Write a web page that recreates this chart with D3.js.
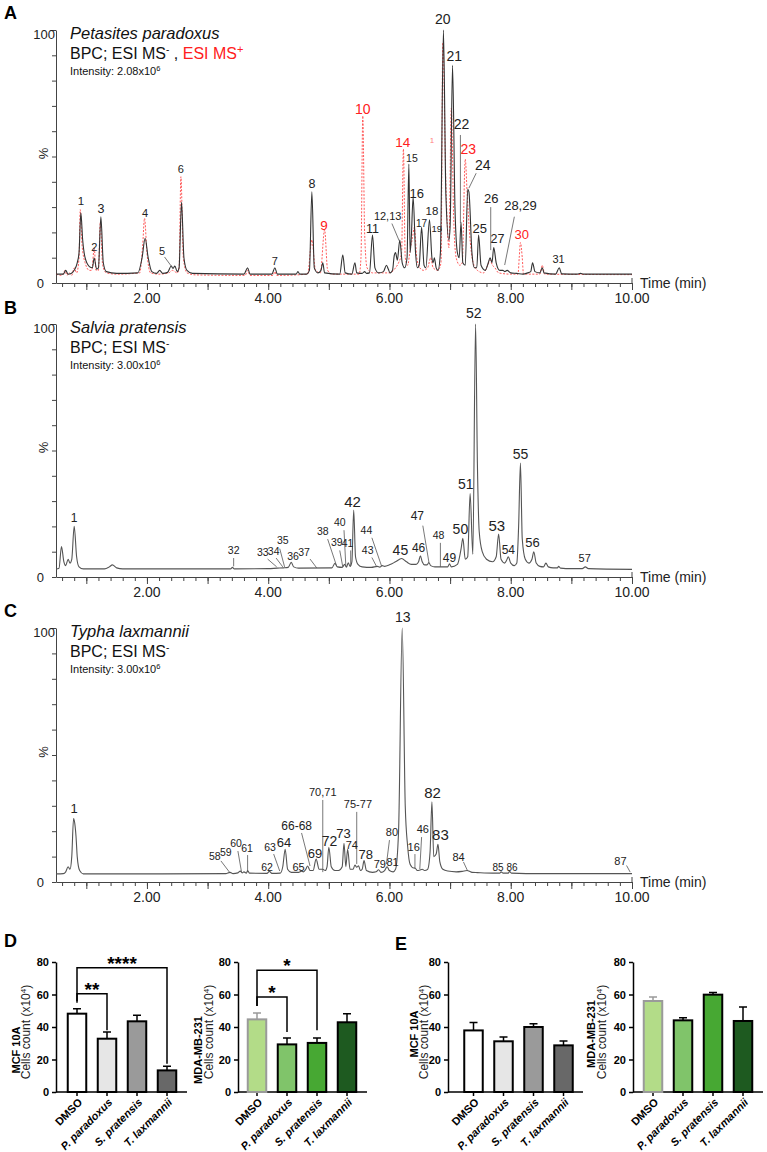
<!DOCTYPE html>
<html>
<head>
<meta charset="utf-8">
<script src="https://cdn.jsdelivr.net/npm/d3@7"></script>
<style>
  body { margin: 0; background: #fff; }
  svg { display: block; font-family: "Liberation Sans", Arial, sans-serif; }
</style>
</head>
<body>
<div id="fig"></div>
<script>
/* * * * * * * * * * * * * *
*   chromatograms + bars    *
* * * * * * * * * * * * * */

// ---- chromatogram data: [time (min), intensity %] ----
const timeTicks = [2, 4, 6, 8, 10];

const traceA_neg = [[0.50,3.5],[0.62,3.5],[0.66,5],[0.70,3.5],[0.75,3.8],[0.80,5],[0.85,8],[0.88,12],[0.91,27.7],[0.94,17],[0.98,10],[1.05,6.5],[1.10,6],[1.13,9.9],[1.17,5.5],[1.20,6],[1.24,26.2],[1.28,8],[1.33,4.5],[1.50,3.8],[1.85,4],[1.92,10],[1.97,17.7],[2.02,10],[2.08,4.5],[2.16,3.8],[2.21,5],[2.26,3.8],[2.34,4.2],[2.40,6.7],[2.43,5.8],[2.46,6.7],[2.50,4.5],[2.53,6],[2.57,32],[2.61,10],[2.66,5],[2.75,3.8],[3.60,3.5],[3.66,6],[3.70,3.5],[4.06,3.5],[4.11,6],[4.15,3.5],[4.46,3.5],[4.49,4.5],[4.52,3.5],[4.63,3.5],[4.68,5],[4.72,36],[4.76,6],[4.82,4],[4.87,5],[4.90,8],[4.93,4],[5.18,3.5],[5.23,11],[5.27,4],[5.38,3.5],[5.43,8],[5.46,4],[5.55,3.8],[5.59,4.5],[5.62,3.8],[5.67,4],[5.72,19],[5.76,6],[5.82,4],[5.90,4.5],[5.95,7],[5.98,5.5],[6.01,4],[6.05,5],[6.08,11],[6.10,12],[6.13,9],[6.17,17],[6.21,8],[6.25,6],[6.29,10],[6.32,47],[6.34,12],[6.36,18],[6.39,34],[6.43,12],[6.46,6],[6.49,7],[6.53,22],[6.57,7],[6.60,6],[6.66,25],[6.70,10],[6.72,8],[6.74,10],[6.77,6],[6.80,5],[6.84,12],[6.89,100],[6.93,35],[6.98,17],[7.00,22],[7.04,86],[7.08,30],[7.12,12],[7.15,10],[7.18,24],[7.21,8],[7.25,7],[7.29,37],[7.31,36],[7.36,12],[7.40,6],[7.44,6],[7.47,19],[7.51,7],[7.58,5],[7.63,8],[7.66,10],[7.69,8],[7.72,14],[7.76,8],[7.82,5],[7.87,5],[7.90,4.5],[7.94,5],[8.00,4],[8.10,3.8],[8.20,3.5],[8.28,4],[8.33,4.5],[8.36,8],[8.40,4.5],[8.48,4],[8.52,6],[8.55,4],[8.74,3.5],[8.80,6],[8.84,3.6],[9.10,3.5],[9.15,3.8],[9.20,3.5],[10.0,3.5]];

const traceA_pos = [[0.50,3.5],[0.60,3],[0.65,5],[0.68,3],[0.72,4],[0.76,3],[0.80,6],[0.84,4],[0.88,10],[0.90,29],[0.93,15],[0.98,8],[1.05,5],[1.09,5],[1.13,13.8],[1.16,5],[1.20,5],[1.23,24],[1.27,7],[1.33,4],[1.50,3.5],[1.88,4],[1.93,15],[1.96,25.6],[2.00,12],[2.06,4],[2.20,3.5],[2.36,4],[2.42,5],[2.50,4],[2.53,6],[2.56,42],[2.60,10],[2.66,4],[2.80,3.2],[3.62,3],[3.66,5],[3.70,3],[4.08,3],[4.11,4.5],[4.14,3],[4.65,3.5],[4.72,17],[4.78,5],[4.86,4],[4.93,21],[4.98,5],[5.05,3.5],[5.50,3.5],[5.53,10],[5.56,66],[5.59,20],[5.63,6],[5.72,4],[6.00,4],[6.10,6],[6.15,8],[6.20,12],[6.23,53],[6.26,10],[6.30,7],[6.34,13],[6.38,18],[6.41,22],[6.45,10],[6.50,6],[6.56,5],[6.63,6],[6.68,10],[6.72,6],[6.80,5],[6.85,8],[6.88,95],[6.93,40],[6.98,14],[7.02,69],[7.06,25],[7.10,10],[7.16,7],[7.20,8],[7.25,49],[7.28,36],[7.32,20],[7.38,8],[7.45,5],[7.55,4],[7.62,7],[7.66,9],[7.70,7],[7.74,6],[7.80,4],[8.00,3.5],[8.12,3.5],[8.14,10],[8.16,16],[8.19,10],[8.21,3.5],[8.48,3.5],[8.52,7],[8.56,3.5],[10.0,3.3]];

const traceB = [[0.50,3.2],[0.55,3.5],[0.59,12],[0.63,6],[0.66,4.5],[0.70,7],[0.73,5.5],[0.76,7],[0.80,20],[0.84,8],[0.88,4],[0.95,3.2],[1.30,3.2],[1.38,4],[1.43,4.8],[1.50,3.6],[1.60,3.2],[3.38,3.2],[3.41,3.8],[3.44,3.2],[4.00,3.3],[4.15,3.5],[4.25,3.6],[4.33,3.8],[4.38,5.8],[4.42,4],[4.50,3.5],[5.05,3.6],[5.10,5.4],[5.14,4],[5.22,3.8],[5.26,5],[5.29,3.9],[5.32,5.6],[5.35,4.2],[5.38,6],[5.41,26.5],[5.44,8],[5.48,5],[5.55,4],[5.70,3.8],[5.80,4.2],[5.84,3.9],[5.88,4.5],[5.92,4.2],[6.00,4.8],[6.10,6],[6.20,7.3],[6.28,6],[6.36,5],[6.44,5],[6.48,6],[6.51,8.4],[6.54,6],[6.58,4.8],[6.62,4.8],[6.65,5.7],[6.68,4.5],[6.75,4],[6.84,4],[6.96,4],[6.99,5.2],[7.02,4],[7.12,5],[7.18,11],[7.21,15.3],[7.25,7],[7.29,8],[7.33,33],[7.375,9],[7.42,100],[7.45,45],[7.48,18],[7.53,10],[7.60,7],[7.70,6],[7.76,8],[7.80,17],[7.84,7],[7.90,5.5],[7.93,6.5],[7.96,8],[8.00,5.5],[8.06,4.5],[8.10,5.5],[8.13,20],[8.16,45],[8.19,15],[8.24,7],[8.30,5.5],[8.35,7],[8.38,10],[8.42,5.5],[8.48,4.2],[8.54,4],[8.58,5.5],[8.62,4],[8.70,3.6],[8.77,3.6],[8.79,4.2],[8.82,3.5],[9.00,3.3],[9.18,3.3],[9.23,4],[9.28,3.3],[10.0,3.0]];

const traceC = [[0.50,3.2],[0.62,3.3],[0.66,4],[0.70,6],[0.73,5],[0.76,10],[0.79,25],[0.81,23],[0.83,18],[0.85,10],[0.89,4.5],[0.95,3.2],[1.50,3.2],[3.30,3.3],[3.37,3.8],[3.42,3.3],[3.50,3.6],[3.54,4.3],[3.57,3.6],[3.60,4],[3.64,3.5],[3.66,4.5],[3.69,3.5],[3.98,3.4],[4.02,4.2],[4.06,3.4],[4.20,3.5],[4.24,6],[4.28,12.9],[4.32,5],[4.38,3.8],[4.50,3.8],[4.55,4.3],[4.58,4],[4.62,5],[4.65,6.3],[4.69,4.5],[4.74,4.5],[4.79,9],[4.84,5],[4.90,5],[4.94,4.5],[4.97,6],[5.00,13.7],[5.04,6],[5.10,4.5],[5.16,4.5],[5.22,6],[5.25,15.2],[5.28,6],[5.31,12.9],[5.35,5],[5.40,5],[5.43,6.7],[5.46,5.8],[5.49,6.4],[5.52,4.5],[5.55,5],[5.58,8.4],[5.62,4.5],[5.72,3.8],[5.78,4],[5.82,4.8],[5.86,3.8],[5.92,4.5],[5.96,6],[6.00,4.5],[6.06,4],[6.10,5],[6.15,20],[6.21,100],[6.26,30],[6.30,14],[6.34,7],[6.40,5.5],[6.42,5.5],[6.46,4.5],[6.50,4.7],[6.54,5],[6.58,4.5],[6.63,5],[6.67,12],[6.70,31.6],[6.73,10],[6.77,11],[6.80,14.8],[6.83,8],[6.88,5],[6.96,4.3],[7.10,4],[7.20,4.2],[7.28,4.5],[7.32,4.2],[7.36,3.8],[7.45,3.7],[7.70,3.5],[7.82,3.5],[7.84,4],[7.87,3.5],[7.96,3.5],[7.98,4.2],[8.01,3.5],[8.50,3.3],[10.0,3.3]];

// ---- peak labels: [text, time, %, leader from (time, %), leader to (time, %)] ----
const labelsA = [["1",0.91,30.8],["2",1.13,12.6],["3",1.24,27.7],["4",1.97,26.1],["5",2.25,11.1,2.29,10.3,2.41,6.4],["6",2.56,43.5],["7",4.11,7.1],["8",4.72,37.5],["9",4.92,20.9],["10",5.56,66.8],["11",5.72,19.8],["12,13",5.97,24.9,6.04,23.5,6.16,16.7],["14",6.22,53.8],["15",6.37,47.8],["16",6.45,33.6],["17",6.53,22.1],["18",6.70,26.9],["19",6.78,20.2],["20",6.88,102.4],["21",7.07,87.7],["22",7.19,60.9,7.17,58.5,7.17,23.6],["23",7.30,51],["24",7.54,44.7,7.43,43.4,7.31,37.5],["25",7.49,19.8],["26",7.68,31.6,7.67,30,7.67,13],["27",7.78,15.8],["28,29",8.16,28.9,8.06,26.2,7.90,7.1],["30",8.18,17.4],["31",8.79,7.9]];
const redLabelsA = ["9", "10", "14", "23", "30"];

const labelsB = [["1",0.80,21.7],["32",3.43,9.1,3.43,7.5,3.43,4.2],["33",3.91,8.3,3.99,7.1,4.14,4],["34",4.09,8.7,4.13,7.5,4.24,4],["35",4.24,13,4.19,11.2,4.27,4],["36",4.41,6.7],["37",4.59,8.3,4.69,7.1,4.80,3.6],["38",4.90,16.6,4.98,15,5.13,4.2],["39",5.13,12.3,5.18,10.5,5.23,4],["40",5.18,20.2,5.25,18.5,5.28,4.3],["41",5.31,11.9,5.36,10.5,5.36,4.3],["42",5.39,27.7],["43",5.64,9.1,5.71,7.7,5.79,4],["44",5.62,17,5.71,15.5,5.87,4.3],["45",6.18,8.7],["46",6.48,9.9],["47",6.46,22.5,6.55,20.3,6.65,5.9],["48",6.81,15,6.84,13.5,6.84,4],["49",6.99,5.9],["50",7.17,17],["51",7.26,34.8],["52",7.39,102.4],["53",7.77,18.2],["54",7.96,9.1],["55",8.16,46.6],["56",8.36,11.9],["57",9.22,5.9]];

const labelsC = [["1",0.80,27.2],["58",3.12,8.7,3.22,8.3,3.37,3.6],["59",3.30,10.2],["60",3.47,13.8,3.50,12.2,3.56,3.9],["61",3.65,11.8,3.66,10.6,3.66,3.9],["62",3.98,4.3],["63",4.03,12.2,4.09,11,4.19,4.3],["64",4.26,13.8],["65",4.50,4.3],["66-68",4.47,20.5,4.55,19.3,4.69,6.3],["69",4.77,9.4],["70,71",4.90,33.9,4.90,32.3,4.90,3.9],["72",5.01,14.2],["73",5.24,17.3],["74",5.38,12.8],["75-77",5.48,29.1,5.46,27.6,5.46,7.1],["78",5.61,9.1],["79",5.84,5.5],["80",6.04,18.1,6.00,16.5,5.95,7.1],["81",6.05,6.3],["13",6.22,102.4],["16",6.40,12.2,6.42,11,6.42,5.1],["46",6.55,19.3,6.53,17.7,6.50,5.1],["82",6.71,33.1],["83",6.84,16.5],["84",7.14,8.3,7.22,7.9,7.29,4.3],["85",7.79,4.3],["86",8.02,4.3],["87",9.81,6.7,9.91,6.5,9.97,3.9]];

// ---- cell count data (x10^4) ----
const groups = ["DMSO", "P. paradoxus", "S. pratensis", "T. laxmannii"];
const barTicks = [0, 20, 40, 60, 80];
const dMcf = [48.2, 32.8, 43.5, 13.3];
const dMcfErr = [3.1, 4.1, 3.7, 2.5];
const dMda = [44.7, 29.3, 30.2, 42.9];
const dMdaErr = [3.9, 3.9, 3.0, 5.3];
const eMcf = [37.9, 31.2, 40.0, 28.7];
const eMcfErr = [4.8, 2.6, 2.0, 2.7];
const eMda = [56.0, 44.1, 59.9, 43.7];
const eMdaErr = [2.5, 1.6, 1.4, 8.6];
// significance brackets: [from group, to group, bracket level, left leg end, right leg end, stars]
const dMcfSig = [[0, 3, 76.5, 56, 17.4, "****"], [0, 1, 60.5, 55, 38, "**"]];
const dMdaSig = [[0, 2, 75, 53, 38, "*"], [0, 1, 58.5, 53, 37, "*"]];

// label font sizes (style only)
const sizeA = {"1":11.5,"2":11,"3":12.5,"4":11,"5":11,"6":11,"7":11,"8":12.5,"9":13.5,"10":14,"11":12.5,"12,13":11,"14":13.5,"15":10.5,"16":13,"17":10,"18":11.5,"19":9.5,"20":14,"21":14,"22":14,"23":14,"24":14,"25":13,"26":13,"27":12.5,"28,29":13,"30":13,"31":11};
const sizeB = {"1":12,"42":15,"45":14,"46":12,"47":12,"49":12,"50":14,"51":14,"52":14,"53":15,"54":12,"55":14,"56":13,"57":11};
const sizeC = {"1":13,"64":13,"65":11,"66-68":12,"69":13,"70,71":11,"72":14,"73":13,"74":11,"75-77":11,"78":13,"79":11,"80":11,"81":11,"13":14,"16":11,"46":11,"82":15,"83":15,"84":11,"85":10,"86":10,"87":11};

const svg = d3.select("#fig").append("svg")
    .attr("width", 767)
    .attr("height", 1152);

svg.append("rect").attr("width", 767).attr("height", 1152).attr("fill", "#fff");

// shared time axis
const x = d3.scaleLinear().domain([0.5, 10]).range([56, 632]);

function chromPanel(cfg) {
    let y = d3.scaleLinear().domain([0, 100]).range([cfg.y0, cfg.y100]);
    let g = svg.append("g");

    // panel letter
    g.append("text").attr("x", 4).attr("y", cfg.letterY)
        .style("font-size", "18px").style("font-weight", "bold").text(cfg.letter);

    // y axis
    let ya = g.append("g").attr("transform", `translate(${x(0.5)},0)`)
        .call(d3.axisLeft(y).tickValues(d3.range(0, 101, 10)).tickSize(4).tickSizeOuter(0).tickFormat(""));
    ya.select(".domain").attr("stroke", "#444");
    ya.selectAll(".tick line").attr("stroke", "#444");

    g.append("text").attr("x", 55).attr("y", y(100) + 9).attr("text-anchor", "end")
        .style("font-size", "13px").attr("fill", "#222").text("100");
    g.append("text").attr("x", 44).attr("y", y(0) + 5).attr("text-anchor", "end")
        .style("font-size", "13px").attr("fill", "#222").text("0");
    g.append("text").attr("transform", `translate(48,${(y(0) + y(100)) / 2 - 3}) rotate(-90)`)
        .attr("text-anchor", "middle").style("font-size", "13px").attr("fill", "#222").text("%");

    // x axis: minor, major, labels
    let minor = g.append("g").attr("transform", `translate(0,${y(0)})`)
        .call(d3.axisBottom(x).tickValues(d3.range(3, 51).map(i => i / 5)).tickSize(4).tickSizeOuter(0).tickFormat(""));
    minor.select(".domain").attr("stroke", "#444");
    minor.selectAll(".tick line").attr("stroke", "#444");
    let major = g.append("g").attr("transform", `translate(0,${y(0)})`)
        .call(d3.axisBottom(x).tickValues(d3.range(1, 11)).tickSize(7).tickSizeOuter(0).tickFormat(""));
    major.select(".domain").remove();
    major.selectAll(".tick line").attr("stroke", "#444");
    g.append("line").attr("x1", x(10)).attr("x2", x(10)).attr("y1", y(0) - 5).attr("y2", y(0))
        .attr("stroke", "#444");

    g.selectAll(".tlab").data(timeTicks).join("text")
        .attr("class", "tlab")
        .attr("x", d => x(d)).attr("y", y(0) + 20)
        .attr("text-anchor", "middle").style("font-size", "14px").attr("fill", "#222")
        .text(d => d3.format(".2f")(d));
    g.append("text").attr("x", 640).attr("y", y(0) + 5)
        .style("font-size", "14px").attr("fill", "#222").text("Time (min)");

    // titles
    g.append("text").attr("x", 70).attr("y", cfg.titleY)
        .style("font-size", "16.5px").style("font-style", "italic").attr("fill", "#111").text(cfg.title);
    let sub = g.append("text").attr("x", 70).attr("y", cfg.titleY + 20)
        .style("font-size", "16px").attr("fill", "#111");
    sub.append("tspan").text("BPC; ESI MS");
    sub.append("tspan").attr("dy", -6).style("font-size", "10px").text("-");
    if (cfg.pos) {
        sub.append("tspan").attr("dy", 6).text(" , ");
        sub.append("tspan").attr("fill", "#ff2020").text("ESI MS");
        sub.append("tspan").attr("dy", -6).attr("fill", "#ff2020").style("font-size", "11px").text("+");
    }
    let inten = g.append("text").attr("x", 70).attr("y", cfg.titleY + 36)
        .style("font-size", "11px").attr("fill", "#111");
    inten.append("tspan").text("Intensity: " + cfg.intensity + "x10");
    inten.append("tspan").attr("dy", -4).style("font-size", "7.5px").text("6");

    // traces
    let line = d3.line().x(d => x(d[0])).y(d => y(d[1])).curve(d3.curveMonotoneX);
    if (cfg.pos) {
        g.append("path").datum(cfg.pos).attr("d", line)
            .attr("fill", "none").attr("stroke", "#ff5a5a").attr("stroke-width", 1)
            .attr("stroke-dasharray", "2,1.5");
    }
    g.append("path").datum(cfg.trace).attr("d", line)
        .attr("fill", "none").attr("stroke", cfg.lineColor).attr("stroke-width", 1.1);

    // leaders and peak labels
    g.selectAll(".lead").data(cfg.labels.filter(d => d.length > 3)).join("line")
        .attr("class", "lead")
        .attr("x1", d => x(d[3])).attr("y1", d => y(d[4]))
        .attr("x2", d => x(d[5])).attr("y2", d => y(d[6]))
        .attr("stroke", "#555").attr("stroke-width", 0.8);
    g.selectAll(".plab").data(cfg.labels).join("text")
        .attr("class", "plab")
        .attr("x", d => x(d[1])).attr("y", d => y(d[2]))
        .attr("text-anchor", "middle")
        .style("font-size", d => (cfg.sizes[d[0]] || 10.5) + "px")
        .attr("fill", d => (cfg.red && cfg.red.includes(d[0])) ? "#ff2020" : "#222")
        .text(d => d[0]);
}

chromPanel({letter: "A", letterY: 19, y0: 283, y100: 30, titleY: 39, title: "Petasites paradoxus",
    intensity: "2.08", trace: traceA_neg, pos: traceA_pos, lineColor: "#333",
    labels: labelsA, red: redLabelsA, sizes: sizeA});
chromPanel({letter: "B", letterY: 314, y0: 577, y100: 324, titleY: 333, title: "Salvia pratensis",
    intensity: "3.00", trace: traceB, lineColor: "#555", labels: labelsB, sizes: sizeB});
chromPanel({letter: "C", letterY: 617, y0: 882, y100: 628, titleY: 637, title: "Typha laxmannii",
    intensity: "3.00", trace: traceC, lineColor: "#555", labels: labelsC, sizes: sizeC});

// stray red mark above peak 18 in panel A
svg.append("text").attr("x", x(6.70)).attr("y", 143).attr("text-anchor", "middle")
    .style("font-size", "8px").attr("fill", "#ff8080").text("1");

// ---- bar charts ----
function barChart(cfg) {
    let yb = d3.scaleLinear().domain([0, 80]).range([1092, 962]);
    let xb = d3.scalePoint().domain(groups).range([cfg.c0, cfg.c0 + 90]);
    let bw = 18.5;
    let g = svg.append("g");

    let ya = g.append("g").attr("transform", `translate(${cfg.axisX},0)`)
        .call(d3.axisLeft(yb).tickValues(barTicks).tickSize(4).tickSizeOuter(0).tickPadding(3));
    ya.select(".domain").attr("stroke", "#000").attr("stroke-width", 1.5);
    ya.selectAll(".tick line").attr("stroke", "#000").attr("stroke-width", 1.5);
    ya.selectAll(".tick text").style("font-size", "11px").style("font-weight", "bold")
        .style("font-family", "Liberation Sans, Arial, sans-serif").attr("fill", "#000");

    g.append("line").attr("x1", cfg.axisX).attr("x2", cfg.endX)
        .attr("y1", yb(0)).attr("y2", yb(0)).attr("stroke", "#000").attr("stroke-width", 1.5);
    g.selectAll(".xt").data(groups).join("line").attr("class", "xt")
        .attr("x1", d => xb(d)).attr("x2", d => xb(d))
        .attr("y1", yb(0)).attr("y2", yb(0) + 4).attr("stroke", "#000").attr("stroke-width", 1.5);

    // error bars (upper only)
    g.selectAll(".err").data(cfg.values).join("path").attr("class", "err")
        .attr("d", (d, i) => {
            let cx = xb(groups[i]);
            let top = yb(d + cfg.errs[i]);
            return `M${cx},${yb(d)}V${top}M${cx - 4},${top}H${cx + 4}`;
        })
        .attr("fill", "none").attr("stroke", (d, i) => cfg.strokes[i]).attr("stroke-width", 1.5);

    g.selectAll(".bar").data(cfg.values).join("rect").attr("class", "bar")
        .attr("x", (d, i) => xb(groups[i]) - bw / 2)
        .attr("y", d => yb(d))
        .attr("width", bw)
        .attr("height", d => yb(0) - yb(d))
        .attr("fill", (d, i) => cfg.fills[i])
        .attr("stroke", (d, i) => cfg.strokes[i])
        .attr("stroke-width", 2);

    g.selectAll(".xl").data(groups).join("text").attr("class", "xl")
        .attr("transform", d => `translate(${xb(d) + 6},${yb(0) + 11}) rotate(-45)`)
        .attr("text-anchor", "end")
        .style("font-size", "11px").style("font-weight", "bold")
        .style("font-style", d => d === "DMSO" ? "normal" : "italic")
        .text(d => d);

    // axis titles
    g.append("text").attr("transform", `translate(${cfg.titleX},${cfg.titleY}) rotate(-90)`)
        .attr("text-anchor", "middle").style("font-size", "11px").style("font-weight", "bold")
        .text(cfg.title);
    let ct = g.append("text").attr("transform", `translate(${cfg.cellsX},1032) rotate(-90)`)
        .attr("text-anchor", "middle").style("font-size", "12px").attr("fill", "#222");
    ct.append("tspan").text("Cells count (x10");
    ct.append("tspan").attr("dy", -4).style("font-size", "8px").text("4");
    ct.append("tspan").attr("dy", 4).text(")");

    // significance brackets
    (cfg.sig || []).forEach(s => {
        let xa = xb(groups[s[0]]), xe = xb(groups[s[1]]);
        g.append("path")
            .attr("d", `M${xa},${yb(s[3])}V${yb(s[2])}H${xe}V${yb(s[4])}`)
            .attr("fill", "none").attr("stroke", "#000").attr("stroke-width", 1.5);
        g.append("text").attr("x", (xa + xe) / 2).attr("y", yb(s[2]) + 2)
            .attr("text-anchor", "middle").style("font-size", "19px").style("font-weight", "bold")
            .text(s[5]);
    });
}

const greyFills = ["#ffffff", "#e6e6e6", "#9a9a9a", "#686868"];
const greenFills = ["#b3dc88", "#80c46a", "#47a833", "#1e5a20"];
const blackStrokes = ["#000", "#000", "#000", "#000"];
const greenStrokes = ["#9a9a9a", "#000", "#000", "#000"];

svg.append("text").attr("x", 4).attr("y", 947).style("font-size", "18px").style("font-weight", "bold").text("D");
svg.append("text").attr("x", 395).attr("y", 950).style("font-size", "18px").style("font-weight", "bold").text("E");

barChart({axisX: 56, endX: 187, c0: 77, values: dMcf, errs: dMcfErr, fills: greyFills, strokes: blackStrokes,
    title: "MCF 10A", titleX: 19.5, titleY: 1050, cellsX: 30, sig: dMcfSig});
barChart({axisX: 238, endX: 367, c0: 257, values: dMda, errs: dMdaErr, fills: greenFills, strokes: greenStrokes,
    title: "MDA-MB-231", titleX: 201.5, titleY: 1050, cellsX: 213, sig: dMdaSig});
barChart({axisX: 448, endX: 583, c0: 473.5, values: eMcf, errs: eMcfErr, fills: greyFills, strokes: blackStrokes,
    title: "MCF 10A", titleX: 417.5, titleY: 1034, cellsX: 428});
barChart({axisX: 633, endX: 763, c0: 653, values: eMda, errs: eMdaErr, fills: greenFills, strokes: greenStrokes,
    title: "MDA-MB-231", titleX: 595, titleY: 1034, cellsX: 606});
</script>
</body>
</html>
